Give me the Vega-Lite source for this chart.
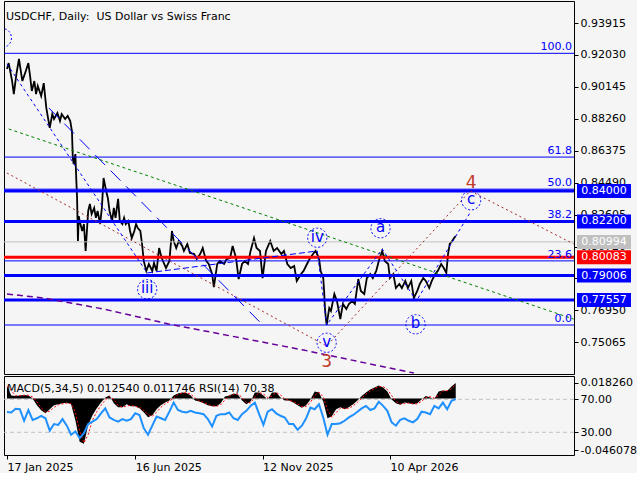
{
"$schema": "https://vega.github.io/schema/vega-lite/v6.json",
"background": "#F5F5F5",
"padding": {"left": 1, "top": 0, "right": 0, "bottom": 0},
"spacing": 0,
"config": {
 "view": {"stroke": "black", "strokeWidth": 1},
 "axis": {"labelFont": "DejaVu Sans", "labelFontSize": 11, "labelColor": "black", "tickColor": "black", "domain": false, "grid": false},
 "text": {"font": "DejaVu Sans"},
 "title": {"font": "DejaVu Sans"}
},
"datasets": {
 "price": [{"d":"2025-01-17","p":0.9120},{"d":"2025-01-19","p":0.9155},{"d":"2025-01-23","p":0.9049},{"d":"2025-01-25","p":0.8972},{"d":"2025-01-28","p":0.9090},{"d":"2025-01-31","p":0.9179},{"d":"2025-02-04","p":0.9049},{"d":"2025-02-08","p":0.9108},{"d":"2025-02-11","p":0.9155},{"d":"2025-02-13","p":0.9079},{"d":"2025-02-15","p":0.8990},{"d":"2025-02-18","p":0.9049},{"d":"2025-02-20","p":0.8972},{"d":"2025-02-22","p":0.9020},{"d":"2025-02-26","p":0.8961},{"d":"2025-03-01","p":0.9037},{"d":"2025-03-04","p":0.8890},{"d":"2025-03-06","p":0.8831},{"d":"2025-03-08","p":0.8772},{"d":"2025-03-11","p":0.8854},{"d":"2025-03-13","p":0.8825},{"d":"2025-03-17","p":0.8860},{"d":"2025-03-20","p":0.8813},{"d":"2025-03-22","p":0.8854},{"d":"2025-03-26","p":0.8825},{"d":"2025-03-29","p":0.8843},{"d":"2025-04-01","p":0.8813},{"d":"2025-04-03","p":0.8754},{"d":"2025-04-04","p":0.8595},{"d":"2025-04-05","p":0.8559},{"d":"2025-04-07","p":0.8618},{"d":"2025-04-08","p":0.8477},{"d":"2025-04-09","p":0.8359},{"d":"2025-04-10","p":0.8105},{"d":"2025-04-11","p":0.8252},{"d":"2025-04-12","p":0.8223},{"d":"2025-04-15","p":0.8164},{"d":"2025-04-17","p":0.8205},{"d":"2025-04-19","p":0.8046},{"d":"2025-04-22","p":0.8282},{"d":"2025-04-24","p":0.8323},{"d":"2025-04-26","p":0.8264},{"d":"2025-04-29","p":0.8300},{"d":"2025-05-01","p":0.8241},{"d":"2025-05-03","p":0.8282},{"d":"2025-05-06","p":0.8205},{"d":"2025-05-08","p":0.8300},{"d":"2025-05-10","p":0.8477},{"d":"2025-05-13","p":0.8400},{"d":"2025-05-15","p":0.8359},{"d":"2025-05-17","p":0.8282},{"d":"2025-05-20","p":0.8223},{"d":"2025-05-22","p":0.8300},{"d":"2025-05-24","p":0.8241},{"d":"2025-05-27","p":0.8353},{"d":"2025-05-29","p":0.8223},{"d":"2025-06-01","p":0.8205},{"d":"2025-06-03","p":0.8241},{"d":"2025-06-05","p":0.8205},{"d":"2025-06-08","p":0.8223},{"d":"2025-06-10","p":0.8164},{"d":"2025-06-12","p":0.8122},{"d":"2025-06-15","p":0.8164},{"d":"2025-06-17","p":0.8205},{"d":"2025-06-19","p":0.8181},{"d":"2025-06-22","p":0.8164},{"d":"2025-06-24","p":0.8087},{"d":"2025-06-26","p":0.7987},{"d":"2025-06-29","p":0.7928},{"d":"2025-07-02","p":0.7969},{"d":"2025-07-06","p":0.7928},{"d":"2025-07-08","p":0.7975},{"d":"2025-07-11","p":0.7928},{"d":"2025-07-14","p":0.8063},{"d":"2025-07-17","p":0.8004},{"d":"2025-07-22","p":0.7945},{"d":"2025-07-26","p":0.7987},{"d":"2025-07-29","p":0.8164},{"d":"2025-07-31","p":0.8105},{"d":"2025-08-03","p":0.8063},{"d":"2025-08-06","p":0.8105},{"d":"2025-08-10","p":0.8075},{"d":"2025-08-12","p":0.8046},{"d":"2025-08-16","p":0.8087},{"d":"2025-08-19","p":0.8034},{"d":"2025-08-24","p":0.8028},{"d":"2025-08-27","p":0.7998},{"d":"2025-08-31","p":0.8028},{"d":"2025-09-03","p":0.8063},{"d":"2025-09-07","p":0.7987},{"d":"2025-09-10","p":0.7969},{"d":"2025-09-14","p":0.7910},{"d":"2025-09-16","p":0.7833},{"d":"2025-09-20","p":0.7969},{"d":"2025-09-23","p":0.7987},{"d":"2025-09-28","p":0.7969},{"d":"2025-10-01","p":0.7998},{"d":"2025-10-05","p":0.8004},{"d":"2025-10-08","p":0.8075},{"d":"2025-10-12","p":0.8004},{"d":"2025-10-15","p":0.7880},{"d":"2025-10-19","p":0.7969},{"d":"2025-10-22","p":0.7987},{"d":"2025-10-26","p":0.7969},{"d":"2025-10-29","p":0.8046},{"d":"2025-11-02","p":0.8122},{"d":"2025-11-05","p":0.8063},{"d":"2025-11-09","p":0.8046},{"d":"2025-11-12","p":0.7886},{"d":"2025-11-16","p":0.8046},{"d":"2025-11-21","p":0.8105},{"d":"2025-11-25","p":0.8046},{"d":"2025-11-29","p":0.8063},{"d":"2025-12-04","p":0.8028},{"d":"2025-12-07","p":0.8046},{"d":"2025-12-11","p":0.7969},{"d":"2025-12-15","p":0.7945},{"d":"2025-12-19","p":0.7957},{"d":"2025-12-22","p":0.7869},{"d":"2025-12-27","p":0.7910},{"d":"2025-12-30","p":0.7928},{"d":"2026-01-03","p":0.7969},{"d":"2026-01-06","p":0.7998},{"d":"2026-01-10","p":0.8028},{"d":"2026-01-13","p":0.8046},{"d":"2026-01-17","p":0.8004},{"d":"2026-01-19","p":0.7928},{"d":"2026-01-22","p":0.7886},{"d":"2026-01-23","p":0.7810},{"d":"2026-01-24","p":0.7709},{"d":"2026-01-25","p":0.7650},{"d":"2026-01-26","p":0.7609},{"d":"2026-01-29","p":0.7709},{"d":"2026-01-31","p":0.7692},{"d":"2026-02-04","p":0.7792},{"d":"2026-02-07","p":0.7751},{"d":"2026-02-11","p":0.7644},{"d":"2026-02-14","p":0.7733},{"d":"2026-02-18","p":0.7703},{"d":"2026-02-21","p":0.7733},{"d":"2026-02-25","p":0.7751},{"d":"2026-02-28","p":0.7733},{"d":"2026-03-04","p":0.7880},{"d":"2026-03-07","p":0.7810},{"d":"2026-03-11","p":0.7792},{"d":"2026-03-14","p":0.7886},{"d":"2026-03-18","p":0.7910},{"d":"2026-03-21","p":0.7886},{"d":"2026-03-25","p":0.7928},{"d":"2026-03-28","p":0.7987},{"d":"2026-04-01","p":0.8046},{"d":"2026-04-04","p":0.7987},{"d":"2026-04-08","p":0.7969},{"d":"2026-04-10","p":0.7886},{"d":"2026-04-14","p":0.7910},{"d":"2026-04-17","p":0.7827},{"d":"2026-04-21","p":0.7851},{"d":"2026-04-24","p":0.7827},{"d":"2026-04-28","p":0.7869},{"d":"2026-05-01","p":0.7827},{"d":"2026-05-05","p":0.7869},{"d":"2026-05-08","p":0.7768},{"d":"2026-05-12","p":0.7810},{"d":"2026-05-15","p":0.7851},{"d":"2026-05-19","p":0.7886},{"d":"2026-05-22","p":0.7869},{"d":"2026-05-26","p":0.7827},{"d":"2026-05-29","p":0.7869},{"d":"2026-06-02","p":0.7910},{"d":"2026-06-05","p":0.7928},{"d":"2026-06-09","p":0.7969},{"d":"2026-06-12","p":0.7945},{"d":"2026-06-15","p":0.7916},{"d":"2026-06-17","p":0.8028},{"d":"2026-06-19","p":0.8087},{"d":"2026-06-22","p":0.8105},{"d":"2026-06-24","p":0.8122},{"d":"2026-06-26","p":0.8134}],
 "ind": [{"d":"2025-01-17","m":0.01045,"s":0.00965,"r":54.6},{"d":"2025-01-22","m":0.00241,"s":0.00643,"r":54},{"d":"2025-01-27","m":0.00201,"s":0.00221,"r":58.6},{"d":"2025-02-01","m":0.00241,"s":0.00221,"r":58},{"d":"2025-02-06","m":0.00281,"s":0.00261,"r":44},{"d":"2025-02-11","m":0.00241,"s":0.00261,"r":57},{"d":"2025-02-16","m":0,"s":0.00121,"r":45},{"d":"2025-02-21","m":-0.00563,"s":-0.00281,"r":47},{"d":"2025-02-26","m":-0.00965,"s":-0.00764,"r":50},{"d":"2025-03-03","m":-0.01206,"s":-0.01085,"r":47},{"d":"2025-03-08","m":-0.00884,"s":-0.01045,"r":32},{"d":"2025-03-13","m":-0.00563,"s":-0.00724,"r":40},{"d":"2025-03-18","m":-0.00482,"s":-0.00523,"r":39},{"d":"2025-03-23","m":-0.00402,"s":-0.00442,"r":46},{"d":"2025-03-28","m":-0.00362,"s":-0.00382,"r":38},{"d":"2025-04-02","m":-0.00482,"s":-0.00422,"r":27},{"d":"2025-04-07","m":-0.01769,"s":-0.01126,"r":31},{"d":"2025-04-12","m":-0.03538,"s":-0.02653,"r":23},{"d":"2025-04-17","m":-0.03698,"s":-0.03618,"r":29},{"d":"2025-04-22","m":-0.02171,"s":-0.02935,"r":40},{"d":"2025-04-27","m":-0.01367,"s":-0.01769,"r":43},{"d":"2025-05-02","m":-0.00804,"s":-0.01085,"r":46},{"d":"2025-05-07","m":-0.00322,"s":-0.00563,"r":53},{"d":"2025-05-12","m":0.0008,"s":-0.00121,"r":59},{"d":"2025-05-17","m":0.00241,"s":0.00161,"r":48},{"d":"2025-05-22","m":-0.00402,"s":-0.0008,"r":45},{"d":"2025-05-27","m":-0.00724,"s":-0.00563,"r":43},{"d":"2025-06-01","m":-0.00724,"s":-0.00724,"r":46},{"d":"2025-06-06","m":-0.00482,"s":-0.00603,"r":44},{"d":"2025-06-11","m":-0.00643,"s":-0.00563,"r":46},{"d":"2025-06-16","m":-0.00643,"s":-0.00643,"r":53},{"d":"2025-06-21","m":-0.00804,"s":-0.00724,"r":51},{"d":"2025-06-26","m":-0.01126,"s":-0.00965,"r":35},{"d":"2025-07-01","m":-0.01528,"s":-0.01327,"r":27},{"d":"2025-07-06","m":-0.01367,"s":-0.01447,"r":38},{"d":"2025-07-11","m":-0.00884,"s":-0.01126,"r":49},{"d":"2025-07-16","m":-0.00563,"s":-0.00724,"r":47},{"d":"2025-07-21","m":-0.00322,"s":-0.00442,"r":45},{"d":"2025-07-26","m":-0.00161,"s":-0.00241,"r":55},{"d":"2025-07-31","m":0.00241,"s":0.0004,"r":66},{"d":"2025-08-05","m":0.00402,"s":0.00322,"r":57},{"d":"2025-08-10","m":0.00482,"s":0.00442,"r":55},{"d":"2025-08-15","m":0.00442,"s":0.00462,"r":54},{"d":"2025-08-20","m":0.00241,"s":0.00342,"r":56},{"d":"2025-08-25","m":-0.00161,"s":0.0004,"r":54},{"d":"2025-08-30","m":-0.00241,"s":-0.00201,"r":53},{"d":"2025-09-04","m":-0.00402,"s":-0.00322,"r":52},{"d":"2025-09-09","m":-0.00563,"s":-0.00482,"r":46},{"d":"2025-09-14","m":-0.00643,"s":-0.00603,"r":37},{"d":"2025-09-19","m":-0.00643,"s":-0.00643,"r":50},{"d":"2025-09-24","m":-0.00402,"s":-0.00523,"r":52},{"d":"2025-09-29","m":0.00161,"s":-0.00121,"r":52},{"d":"2025-10-04","m":0.00241,"s":0.00201,"r":54},{"d":"2025-10-09","m":0.00402,"s":0.00322,"r":47},{"d":"2025-10-14","m":0.00322,"s":0.00362,"r":45},{"d":"2025-10-19","m":-0.00161,"s":0.0008,"r":52},{"d":"2025-10-24","m":-0.00482,"s":-0.00322,"r":56},{"d":"2025-10-29","m":-0.00241,"s":-0.00362,"r":62},{"d":"2025-11-03","m":0.00482,"s":0.00121,"r":66},{"d":"2025-11-08","m":0.00482,"s":0.00482,"r":52},{"d":"2025-11-13","m":0.00241,"s":0.00362,"r":39},{"d":"2025-11-18","m":-0.0008,"s":0.0008,"r":55},{"d":"2025-11-23","m":0.00482,"s":0.00201,"r":58},{"d":"2025-11-28","m":0.00482,"s":0.00482,"r":53},{"d":"2025-12-03","m":0.0008,"s":0.00281,"r":50},{"d":"2025-12-08","m":-0.00161,"s":-0.0004,"r":48},{"d":"2025-12-13","m":-0.00161,"s":-0.00161,"r":40},{"d":"2025-12-18","m":-0.00322,"s":-0.00241,"r":40},{"d":"2025-12-23","m":-0.00563,"s":-0.00442,"r":33},{"d":"2025-12-28","m":-0.00764,"s":-0.00663,"r":38},{"d":"2026-01-02","m":-0.00563,"s":-0.00663,"r":47},{"d":"2026-01-07","m":-0.0008,"s":-0.00322,"r":60},{"d":"2026-01-12","m":0.00563,"s":0.00241,"r":58},{"d":"2026-01-17","m":0.00482,"s":0.00523,"r":64},{"d":"2026-01-22","m":-0.00241,"s":0.00121,"r":48},{"d":"2026-01-27","m":-0.01608,"s":-0.00925,"r":27},{"d":"2026-02-01","m":-0.01447,"s":-0.01528,"r":40},{"d":"2026-02-06","m":-0.00884,"s":-0.01166,"r":40},{"d":"2026-02-11","m":-0.00724,"s":-0.00804,"r":41},{"d":"2026-02-16","m":-0.00884,"s":-0.00804,"r":44},{"d":"2026-02-21","m":-0.00724,"s":-0.00804,"r":48},{"d":"2026-02-26","m":-0.00482,"s":-0.00603,"r":51},{"d":"2026-03-03","m":-0.00161,"s":-0.00322,"r":55},{"d":"2026-03-08","m":0.00201,"s":0.0002,"r":59},{"d":"2026-03-13","m":0.00482,"s":0.00342,"r":62},{"d":"2026-03-18","m":0.00724,"s":0.00603,"r":57},{"d":"2026-03-23","m":0.00884,"s":0.00804,"r":59},{"d":"2026-03-28","m":0.01045,"s":0.00965,"r":67},{"d":"2026-04-02","m":0.00884,"s":0.00965,"r":62},{"d":"2026-04-07","m":0.00563,"s":0.00724,"r":56},{"d":"2026-04-12","m":-0.0008,"s":0.00241,"r":42},{"d":"2026-04-17","m":-0.00402,"s":-0.00241,"r":38},{"d":"2026-04-22","m":-0.00523,"s":-0.00462,"r":45},{"d":"2026-04-27","m":-0.00322,"s":-0.00422,"r":47},{"d":"2026-05-02","m":-0.00402,"s":-0.00362,"r":44},{"d":"2026-05-07","m":-0.00482,"s":-0.00442,"r":42},{"d":"2026-05-12","m":-0.00402,"s":-0.00442,"r":46},{"d":"2026-05-17","m":-0.0008,"s":-0.00241,"r":55},{"d":"2026-05-22","m":0.00201,"s":0.0006,"r":54},{"d":"2026-05-27","m":0.0008,"s":0.00141,"r":52},{"d":"2026-06-01","m":-0.0004,"s":0.0002,"r":62},{"d":"2026-06-06","m":0.00563,"s":0.00261,"r":59},{"d":"2026-06-11","m":0.00643,"s":0.00603,"r":66},{"d":"2026-06-16","m":0.00603,"s":0.00623,"r":58},{"d":"2026-06-21","m":0.00965,"s":0.00784,"r":68},{"d":"2026-06-26","m":0.01254,"s":0.011746,"r":70.38}],
 "fib": [{"p":0.92126,"t":"100.0"},{"p":0.86,"t":"61.8"},{"p":0.84107,"t":"50.0"},{"p":0.82215,"t":"38.2"},{"p":0.79873,"t":"23.6"},{"p":0.76088,"t":"0.0"}],
 "waves": [{"d":"2025-01-11","p":0.9303,"t":""},{"d":"2025-06-30","p":0.7820,"t":"iii"},{"d":"2026-01-15","p":0.8124,"t":"iv"},{"d":"2026-01-26","p":0.7504,"t":"v"},{"d":"2026-03-30","p":0.8180,"t":"a"},{"d":"2026-05-10","p":0.7613,"t":"b"},{"d":"2026-07-14","p":0.8345,"t":"c"}],
 "boxes": [{"p":0.84,"t":"0.84000","k":"level"},{"p":0.822,"t":"0.82200","k":"level"},{"p":0.80994,"t":"0.80994","k":"bid"},{"p":0.80083,"t":"0.80083","k":"line"},{"p":0.79006,"t":"0.79006","k":"level"},{"p":0.77557,"t":"0.77557","k":"level"}]
},
"vconcat": [
 {
  "width": 570, "height": 373,
  "title": {"text": "USDCHF, Daily:\u00a0 US Dollar vs Swiss Franc", "anchor": "start", "orient": "top", "frame": "group", "offset": -30, "dx": 2, "baseline": "alphabetic", "fontSize": 11, "fontWeight": "normal", "color": "black"},
  "encoding": {
   "y": {"field": "p", "type": "quantitative", "scale": {"domain": [0.73196, 0.95214], "nice": false, "zero": false}, "axis": {"orient": "right", "title": null, "values": [0.93915,0.9203,0.90145,0.8826,0.86375,0.8449,0.82605,0.8072,0.78835,0.7695,0.75065], "format": ".5f", "tickSize": 4, "labelPadding": 2}}
  },
  "layer": [
   {"data": {"name": "price"}, "mark": {"type": "line", "color": "black", "strokeWidth": 1.8}, "encoding": {"x": {"field": "d", "type": "temporal", "scale": {"type": "utc", "domain": [{"year":2025,"month":1,"date":13,"hours":12,"utc":true},{"year":2026,"month":11,"date":11,"hours":9,"utc":true}]}, "axis": null}}},
   {"data": {"name": "fib"}, "mark": {"type": "rule", "color": "#0000FF", "strokeWidth": 1}},
   {"data": {"values": [{"p":0.84},{"p":0.822},{"p":0.79006},{"p":0.77557}]}, "mark": {"type": "rule", "color": "#0000FF", "strokeWidth": 3}},
   {"data": {"values": [{"p":0.80994}]}, "mark": {"type": "rule", "color": "#C0C0C0", "strokeWidth": 1}},
   {"data": {"values": [{"p":0.80083}]}, "mark": {"type": "rule", "color": "#FF0000", "strokeWidth": 3}},
   {"data": {"values": [{"d":"2025-03-07","p":0.8890},{"d":"2025-11-11","p":0.7615}]}, "mark": {"type": "line", "color": "#0000FF", "strokeWidth": 1, "strokeDash": [14, 8]}, "encoding": {"x": {"field": "d", "type": "temporal", "axis": null}}},
   {"data": {"values": [{"d":"2025-01-19","p":0.8766},{"d":"2026-11-11","p":0.7644}]}, "mark": {"type": "line", "color": "#008000", "strokeWidth": 1, "strokeDash": [3, 3], "clip": true}, "encoding": {"x": {"field": "d", "type": "temporal", "axis": null}}},
   {"data": {"values": [{"d":"2025-01-17","p":0.8506},{"d":"2026-01-26","p":0.7485},{"d":"2026-07-13","p":0.8400},{"d":"2026-11-11","p":0.8087}]}, "mark": {"type": "line", "color": "#A52A2A", "strokeWidth": 1, "strokeDash": [2, 3], "clip": true}, "encoding": {"x": {"field": "d", "type": "temporal", "axis": null}}},
   {"data": {"values": [{"d":"2025-01-17","p":0.7792},{"d":"2025-03-01","p":0.7768},{"d":"2025-05-10","p":0.7703},{"d":"2025-07-25","p":0.7615},{"d":"2025-12-30","p":0.7461},{"d":"2026-05-08","p":0.7325}]}, "mark": {"type": "line", "color": "#660099", "strokeWidth": 1.5, "strokeDash": [6, 4], "clip": true}, "encoding": {"x": {"field": "d", "type": "temporal", "axis": null}}},
   {"data": {"values": [{"g":1,"d":"2025-01-17","p":0.9150},{"g":1,"d":"2025-06-30","p":0.7916},{"g":2,"d":"2026-01-15","p":0.8046},{"g":2,"d":"2026-01-26","p":0.7609},{"g":2,"d":"2026-04-01","p":0.8057},{"g":2,"d":"2026-05-11","p":0.7751},{"g":2,"d":"2026-07-14","p":0.8282}]}, "mark": {"type": "line", "color": "#0000FF", "strokeWidth": 1, "strokeDash": [3, 3]}, "encoding": {"x": {"field": "d", "type": "temporal", "axis": null}, "detail": {"field": "g"}}},
   {"data": {"values": [{"d":"2025-06-30","p":0.7916},{"d":"2026-01-15","p":0.8046}]}, "mark": {"type": "line", "color": "#0000FF", "strokeWidth": 1, "strokeDash": [6, 3]}, "encoding": {"x": {"field": "d", "type": "temporal", "axis": null}}},
   {"data": {"name": "waves"}, "mark": {"type": "point", "shape": "circle", "filled": false, "color": "#0000FF", "size": 370, "strokeWidth": 1, "strokeDash": [2, 2], "opacity": 1, "clip": true}, "encoding": {"x": {"field": "d", "type": "temporal", "axis": null}}},
   {"data": {"name": "waves"}, "mark": {"type": "text", "color": "#0000FF", "fontSize": 15, "align": "center", "baseline": "middle", "dy": -1}, "encoding": {"x": {"field": "d", "type": "temporal", "axis": null}, "text": {"field": "t"}}},
   {"data": {"values": [{"d":"2026-01-26","p":0.7390,"t":"3"},{"d":"2026-07-14","p":0.8449,"t":"4"}]}, "mark": {"type": "text", "color": "#C0392B", "fontSize": 17, "align": "center", "baseline": "middle"}, "encoding": {"x": {"field": "d", "type": "temporal", "axis": null}, "text": {"field": "t"}}},
   {"data": {"name": "fib"}, "mark": {"type": "text", "color": "#0000FF", "fontSize": 11, "align": "right", "baseline": "bottom", "dx": -2, "dy": -1}, "encoding": {"x": {"value": "width"}, "text": {"field": "t"}}},
   {"data": {"name": "boxes"}, "mark": {"type": "rect", "clip": false, "xOffset": 3, "x2Offset": 57, "yOffset": -7, "y2Offset": 7}, "encoding": {"x": {"value": "width"}, "x2": {"value": "width"}, "y2": {"field": "p"}, "color": {"field": "k", "type": "nominal", "scale": {"domain": ["level","bid","line"], "range": ["#0000FF","#C0C0C0","#FF0000"]}, "legend": null}}},
   {"data": {"name": "boxes"}, "mark": {"type": "text", "clip": false, "color": "white", "fontSize": 11, "align": "center", "baseline": "middle", "dx": 30}, "encoding": {"x": {"value": "width"}, "text": {"field": "t"}}}
  ]
 },
 {
  "width": 570, "height": 79,
  "title": {"text": "MACD(5,34,5) 0.012540 0.011746 RSI(14) 70.38", "anchor": "start", "orient": "top", "frame": "group", "offset": -27, "dx": 3, "baseline": "alphabetic", "fontSize": 11, "fontWeight": "normal", "color": "black"},
  "layer": [
   {"data": {"values": [{"r":70},{"r":30}]}, "mark": {"type": "rule", "color": "#C0C0C0", "strokeWidth": 1, "strokeDash": [4, 3]}, "encoding": {"y": {"field": "r", "type": "quantitative", "scale": {"domain": [2.48, 98.24], "nice": false, "zero": false}, "axis": null}}},
   {"data": {"name": "ind"}, "mark": {"type": "area", "color": "black"}, "encoding": {"x": {"field": "d", "type": "temporal", "scale": {"type": "utc", "domain": [{"year":2025,"month":1,"date":13,"hours":12,"utc":true},{"year":2026,"month":11,"date":11,"hours":9,"utc":true}]}, "axis": {"orient": "bottom", "title": null, "values": [{"year":2025,"month":1,"date":17,"utc":true},{"year":2025,"month":6,"date":16,"utc":true},{"year":2025,"month":11,"date":12,"utc":true},{"year":2026,"month":4,"date":10,"utc":true}], "format": "%d %b %Y", "labelAlign": "left", "tickSize": 4, "labelPadding": 2, "labelFlush": false}}, "y": {"field": "m", "type": "quantitative", "scale": {"domain": [-0.046078, 0.01826], "nice": false, "zero": false}, "axis": null}, "y2": {"datum": 0}}},
   {"data": {"name": "ind"}, "mark": {"type": "line", "color": "#FF0000", "strokeWidth": 1, "strokeDash": [2, 2]}, "encoding": {"x": {"field": "d", "type": "temporal"}, "y": {"field": "s", "type": "quantitative", "scale": {"domain": [-0.046078, 0.01826], "nice": false, "zero": false}, "axis": null}}},
   {"data": {"name": "ind"}, "mark": {"type": "line", "color": "#1E90FF", "strokeWidth": 2}, "encoding": {"x": {"field": "d", "type": "temporal"}, "y": {"field": "r", "type": "quantitative", "scale": {"domain": [2.48, 98.24], "nice": false, "zero": false}, "axis": {"orient": "right", "title": null, "values": [89.8, 70, 30, 8.5], "labelExpr": "datum.value > 80 ? '0.018260' : datum.value < 20 ? '-0.046078' : format(datum.value, '.2f')", "tickSize": 4, "labelPadding": 2}}}}
  ],
  "resolve": {"scale": {"y": "independent"}, "axis": {"y": "independent"}}
 }
]
}
